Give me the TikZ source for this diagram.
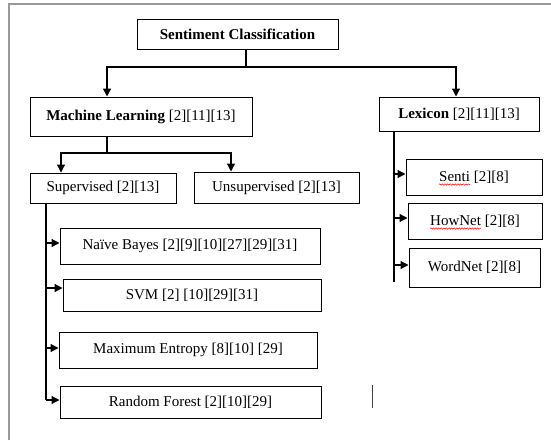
\documentclass[tikz,border=0pt]{standalone}
\usepackage{fontspec}
\setmainfont{Liberation Serif}
\usetikzlibrary{arrows.meta,decorations.pathmorphing}

\begin{document}
\begin{tikzpicture}[x=1pt,y=-1pt,
 box/.style={draw,line width=1pt,inner sep=0pt,font=\fontsize{15}{18}\selectfont},
 arr/.style={line width=1.2pt,-{Triangle[length=8pt,width=8pt]}},
 link/.style={line width=1.2pt},
 wavy/.style={red,line width=0.5pt,decorate,decoration={snake,amplitude=0.7pt,segment length=2.6pt}}]
\useasboundingbox (0,0) rectangle (551,440);
% page frame
\draw[gray!80,line width=1.5pt] (9,440) -- (9,4) -- (551,4);
% boxes
\node[box,minimum width=201pt,minimum height=30pt] (sc) at (237.5,34) {\textbf{Sentiment Classification}};
\node[box,minimum width=222pt,minimum height=39pt] (ml) at (141,116.5) {\textbf{Machine Learning} [2][11][13]};
\node[box,minimum width=160pt,minimum height=34pt] (lex) at (459,114) {\textbf{Lexicon} [2][11][13]};
\node[box,minimum width=146pt,minimum height=30pt] (sup) at (103,188) {Supervised [2][13]};
\node[box,minimum width=165pt,minimum height=31pt] (uns) at (276.5,187.5) {Unsupervised [2][13]};
\node[box,minimum width=260pt,minimum height=36pt] (nb) at (190,246) {Naïve Bayes [2][9][10][27][29][31]};
\node[box,minimum width=258pt,minimum height=32pt] (svm) at (192,295) {SVM [2] [10][29][31]};
\node[box,minimum width=258pt,minimum height=36pt] (me) at (188,350) {Maximum Entropy [8][10] [29]};
\node[box,minimum width=261pt,minimum height=32pt] (rf) at (190.5,402) {Random Forest [2][10][29]};
\node[box,minimum width=136pt,minimum height=36pt] (senti) at (474,177) {Senti [2][8]};
\node[box,minimum width=134pt,minimum height=36pt] (hownet) at (475,221) {HowNet [2][8]};
\node[box,minimum width=131pt,minimum height=39pt] (wordnet) at (474.5,267.5) {WordNet [2][8]};
% spell-check marks
\draw[wavy] ([xshift=-35pt,yshift=-7.5pt]senti.center) -- ([xshift=-4pt,yshift=-7.5pt]senti.center);
\draw[wavy] ([xshift=-45pt,yshift=-7.5pt]hownet.center) -- ([xshift=6pt,yshift=-7.5pt]hownet.center);
% junctions
\coordinate (top) at (246,67);
\coordinate (mlj) at (107,153);
\coordinate (supend) at (46,400);
\coordinate (lexend) at (394,282);
% top level
\draw[link] (sc.south -| top) -- (top);
\draw[arr] (top) -| (ml.north -| 107,0);
\draw[arr] (top) -| (lex.north -| 456,0);
% machine learning
\draw[link] (ml.south -| mlj) -- (mlj);
\draw[arr] (mlj) -| (sup.north -| 61,0);
\draw[arr] (mlj) -| (uns.north -| 231,0);
% supervised methods
\draw[link] (sup.south -| supend) -- (supend);
\foreach \n/\y in {nb/243,svm/288,me/348,rf/400}
 \draw[arr] (46,\y) -- (\n.west |- 0,\y);
% lexicon resources
\draw[link] (lex.south -| lexend) -- (lexend);
\foreach \n/\y in {senti/174,hownet/218,wordnet/265}
 \draw[arr] (394,\y) -- (\n.west |- 0,\y);
% text cursor
\draw[black!75,line width=1pt] (372,385) -- (372,408);
\end{tikzpicture}
\end{document}
